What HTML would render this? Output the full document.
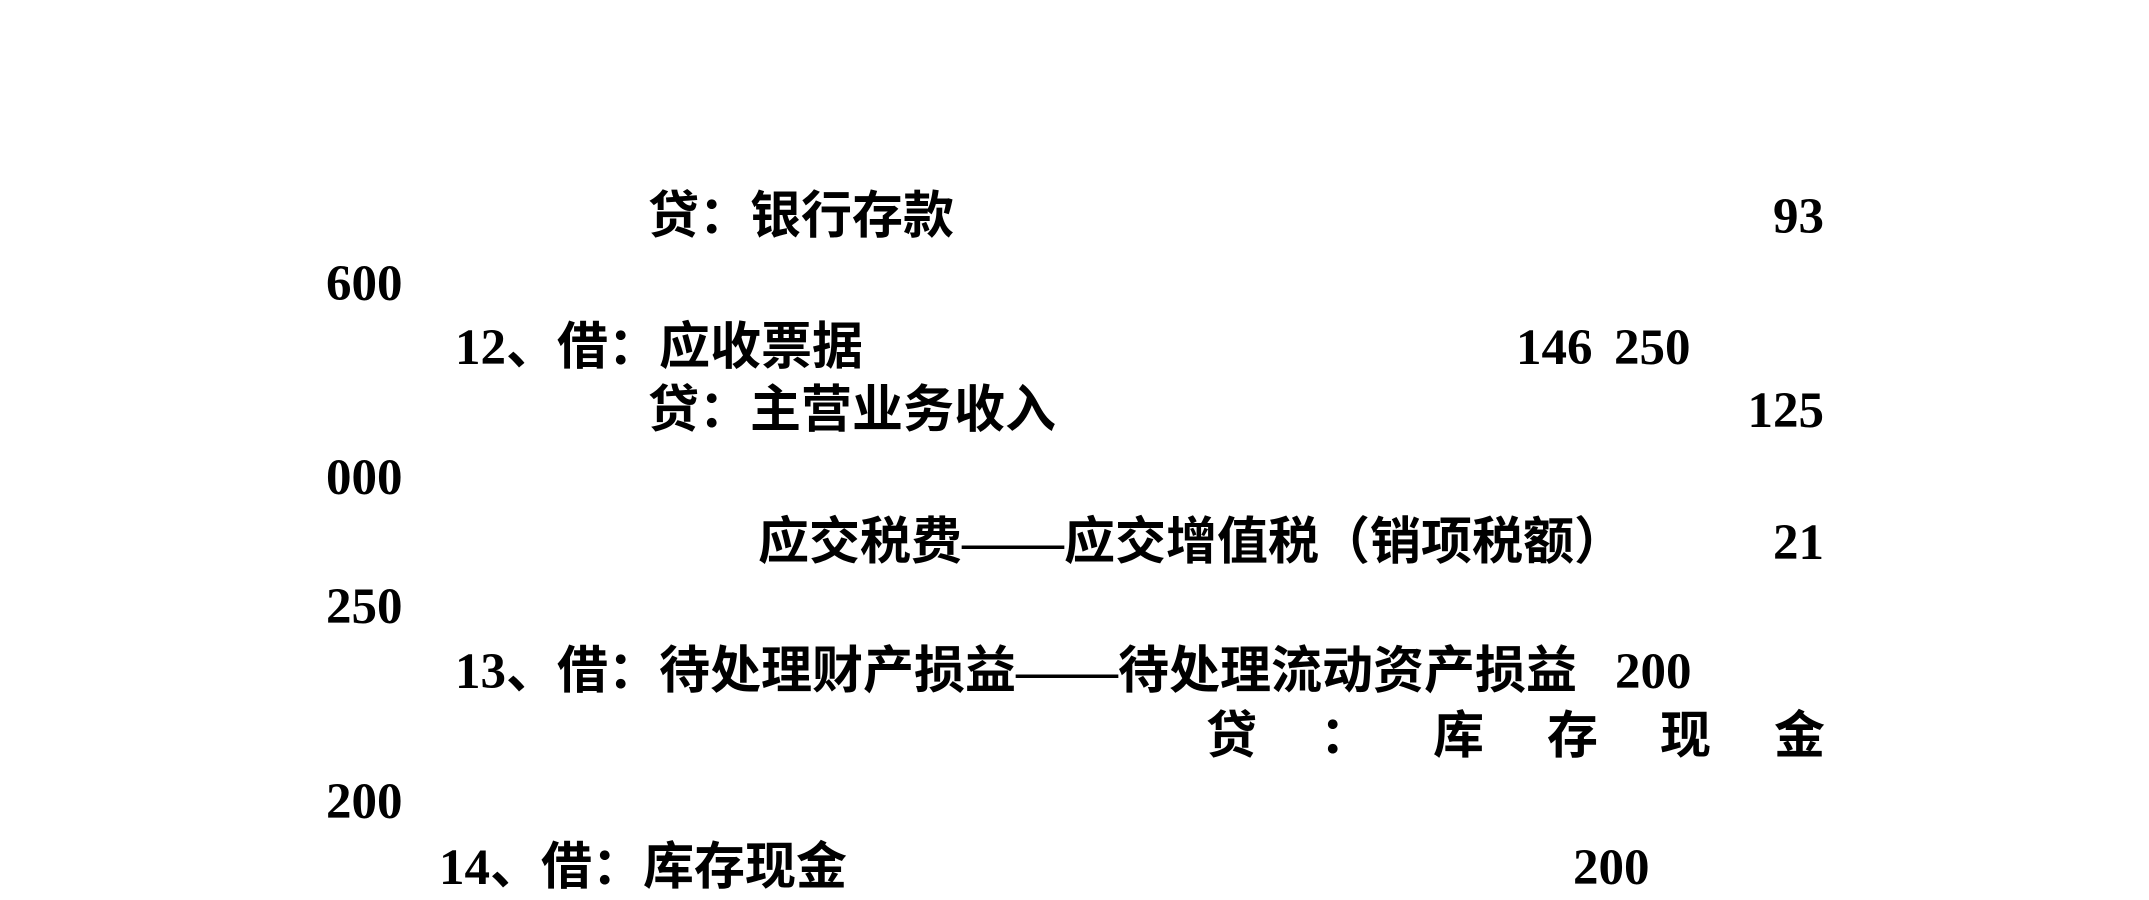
<!DOCTYPE html>
<html><head><meta charset="utf-8"><style>
html,body{margin:0;padding:0;background:#fff;}
body{width:2149px;height:900px;position:relative;overflow:hidden;}
.t{position:absolute;font-family:"Liberation Serif","Noto Sans CJK SC",serif;font-weight:bold;font-size:51px;line-height:50px;color:#000;white-space:pre;}
.r{text-align:right;}
</style></head><body>
<div class="t" style="left:648px;top:192px">贷：银行存款</div>
<div class="t r" style="right:325px;top:192px">93</div>
<div class="t" style="left:326px;top:259px">600</div>
<div class="t" style="left:455px;top:323px">12、借：应收票据</div>
<div class="t" style="left:1516px;top:323px">146</div>
<div class="t" style="left:1614px;top:323px">250</div>
<div class="t" style="left:648px;top:386px">贷：主营业务收入</div>
<div class="t r" style="right:325px;top:386px">125</div>
<div class="t" style="left:326px;top:453px">000</div>
<div class="t" style="left:758px;top:518px">应交税费——应交增值税（销项税额）</div>
<div class="t r" style="right:325px;top:518px">21</div>
<div class="t" style="left:326px;top:582px">250</div>
<div class="t" style="left:455px;top:647px">13、借：待处理财产损益——待处理流动资产损益</div>
<div class="t" style="left:1615px;top:647px">200</div>
<div class="t" style="left:1206px;top:712px">贷</div>
<div class="t" style="left:1320px;top:712px">：</div>
<div class="t" style="left:1433px;top:712px">库</div>
<div class="t" style="left:1547px;top:712px">存</div>
<div class="t" style="left:1660px;top:712px">现</div>
<div class="t" style="left:1774px;top:712px">金</div>
<div class="t" style="left:326px;top:777px">200</div>
<div class="t" style="left:439px;top:843px">14、借：库存现金</div>
<div class="t" style="left:1573px;top:843px">200</div>
</body></html>
